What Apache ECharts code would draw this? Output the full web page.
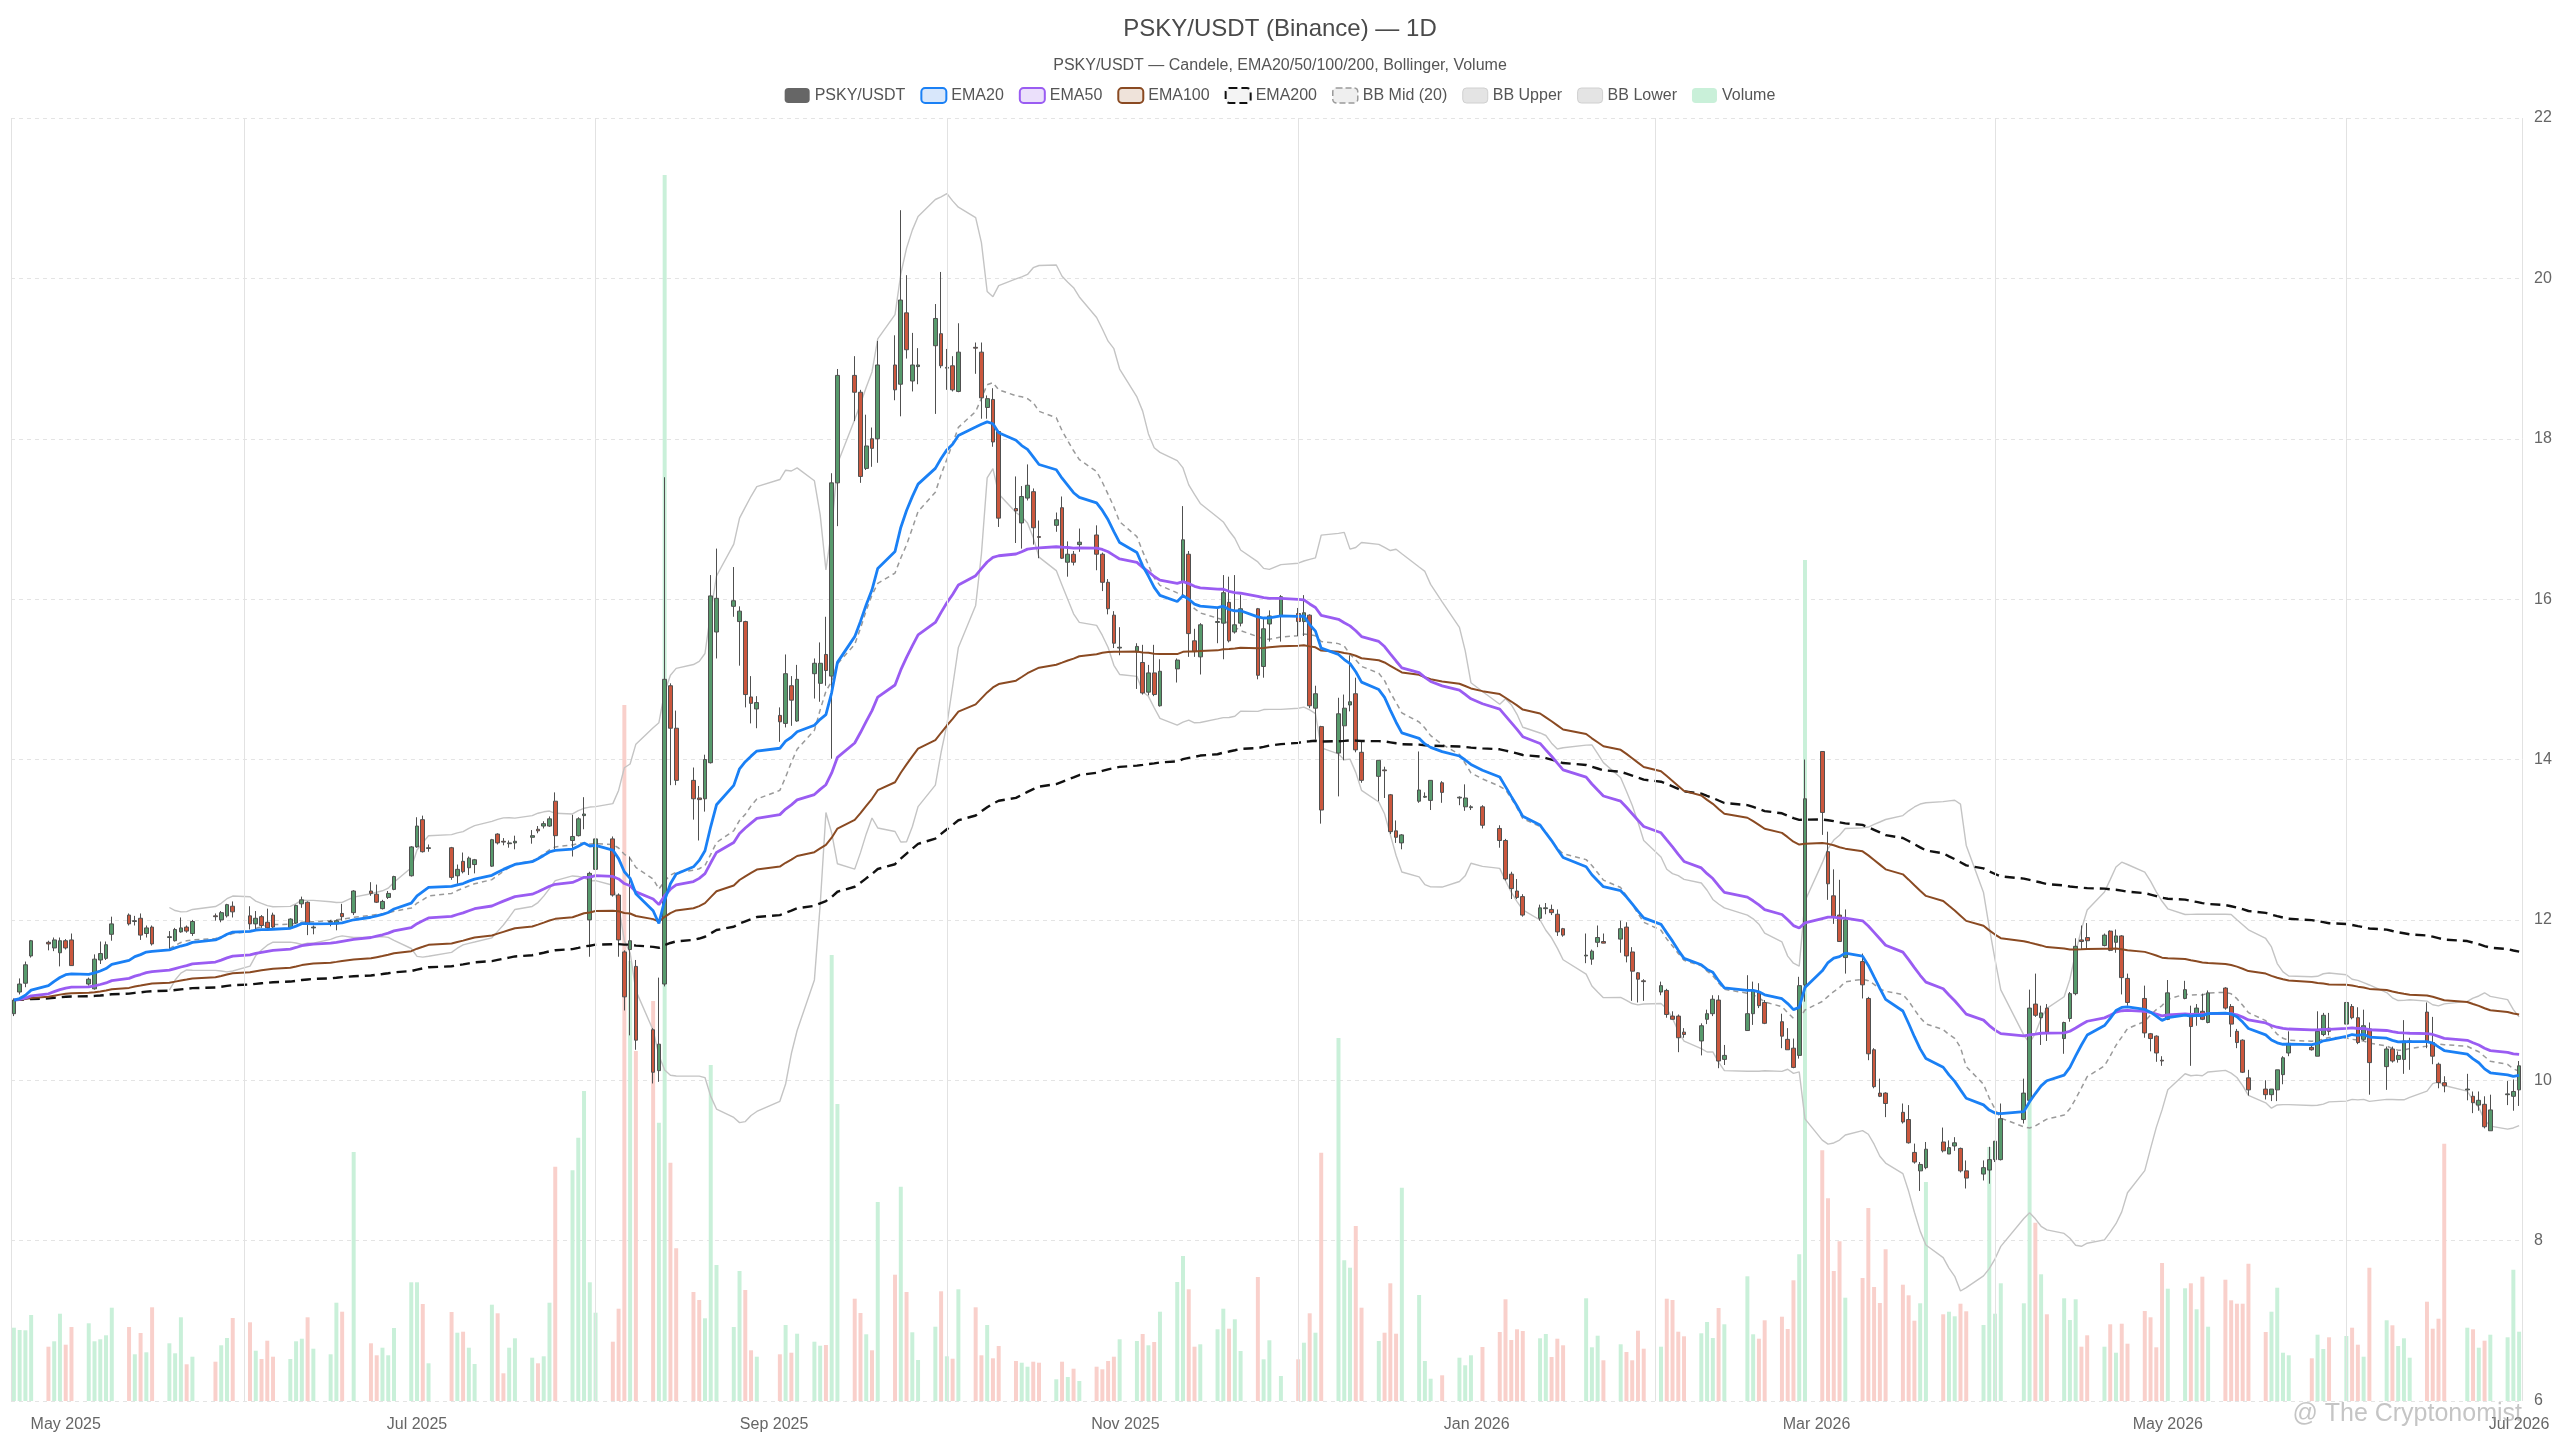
<!DOCTYPE html>
<html>
<head>
<meta charset="utf-8">
<title>PSKY/USDT (Binance) — 1D</title>
<script src="https://cdn.jsdelivr.net/npm/echarts@6/dist/echarts.min.js"></script>
<style>
  html, body { margin: 0; padding: 0; background: #fff; }
  #chart { width: 2560px; height: 1440px; }
</style>
</head>
<body>
<div id="chart"></div>
<script>
// trading calendar: weekdays between first and last day, minus exchange holidays
const firstDay = '2025-04-22';
const lastDay = '2026-07-01';
const holidays = ['2025-05-26', '2025-06-19', '2025-07-04', '2025-09-01', '2025-11-27', '2025-12-25',
    '2026-01-01', '2026-01-19', '2026-02-16', '2026-04-03', '2026-05-25', '2026-06-19'];

// one line per trading week
const opens = [
    10.83, 11.10, 11.21, 11.55,
    11.72, 11.65, 11.59, 11.74, 11.75,
    11.20, 11.14, 11.50, 11.52, 11.82,
    12.06, 11.98, 12.02, 11.83, 11.91,
    11.78, 11.74, 11.85, 11.91, 11.83,
    12.05, 12.00, 12.05, 12.17,
    12.05, 11.95, 12.04, 11.97, 12.06,
    11.90, 11.96, 12.20, 12.22, 11.90,
    11.97, 11.95, 12.08, 12.09,
    12.36, 12.32, 12.14, 12.28, 12.38,
    12.55, 12.91, 13.25, 12.89,
    12.90, 12.55, 12.73, 12.65, 12.69,
    12.67, 13.07, 12.98, 12.95, 12.96,
    13.03, 13.13, 13.17, 13.17, 13.48,
    12.99, 13.05, 13.30, 12.00, 12.63,
    13.01, 12.31, 11.60, 11.63, 11.42,
    10.63, 10.12, 11.20, 14.92, 14.39,
    13.74, 13.52, 13.51, 13.96, 15.59,
    15.91, 15.72, 15.72, 14.78, 14.63,
    14.55, 14.45, 14.92, 14.48,
    15.07, 14.95, 15.31, 15.04, 17.45,
    18.79, 18.58, 17.63, 18.00, 18.00,
    18.92, 18.68, 19.57, 18.72, 18.90,
    19.16, 19.31, 18.88, 18.91, 18.59,
    19.14, 19.08, 18.39, 18.49, 18.09,
    17.13, 16.95, 17.26, 17.34, 16.78,
    16.92, 17.14, 16.46, 16.56, 16.68,
    16.80, 16.56, 16.21, 15.80, 15.39,
    15.34, 15.21, 14.84, 15.08, 14.67,
    15.13, 16.21, 16.56, 15.48, 15.28,
    15.71, 15.70, 15.96, 15.59, 15.70,
    15.88, 15.16, 15.69, 15.79,
    15.82, 15.72, 15.80, 14.64, 14.41,
    14.08, 14.42, 14.68, 14.82, 14.09,
    13.79, 13.87, 13.56, 13.11, 12.96,
    13.48, 13.53, 13.49, 13.71,
    13.52, 13.41, 13.40, 13.41,
    13.14, 12.99, 12.57, 12.36, 12.29,
    12.02, 12.14, 12.13, 12.07, 11.89,
    11.55, 11.51, 11.72, 11.73,
    11.76, 11.91, 11.60, 11.34, 11.24,
    11.10, 11.12, 10.80, 10.80, 10.60,
    10.49, 10.76, 10.83, 11.00, 10.26,
    10.62, 10.83, 11.09, 10.97,
    10.73, 10.51, 10.40, 10.31, 11.19,
    14.10, 12.85, 12.30, 12.06, 11.53,
    11.48, 11.02, 10.38, 9.84, 9.84,
    9.60, 9.51, 9.10, 8.87, 8.91,
    9.23, 9.08, 9.18, 9.15, 8.87,
    8.83, 8.88, 9.01, 9.01,
    9.51, 9.75, 10.95, 10.78, 10.90,
    10.52, 10.77, 11.08, 11.75, 11.78,
    11.68, 11.86, 11.72, 11.80, 11.27,
    11.02, 10.58, 10.55, 10.25, 10.76,
    11.02, 10.83, 10.81, 10.86, 10.72,
    11.15, 10.92, 10.61, 10.50, 10.03,
    9.89, 9.82, 9.88, 10.07, 10.34,
    10.41, 10.30, 10.57, 10.65,
    10.70, 10.92, 10.78, 10.51, 10.64,
    10.17, 10.39, 10.26, 10.26, 10.48,
    10.85, 10.47, 10.20, 9.97,
    9.88, 9.80, 9.69, 9.70, 9.37,
    9.82, 9.80, 9.88
];

const highs = [
    11.02, 11.27, 11.48, 11.75,
    11.74, 11.78, 11.78, 11.76, 11.83,
    11.28, 11.57, 11.73, 11.73, 12.04,
    12.08, 12.05, 12.08, 11.93, 11.93,
    11.86, 11.90, 12.03, 11.93, 12.00,
    12.08, 12.11, 12.20, 12.23,
    12.17, 12.11, 12.06, 12.14, 12.09,
    12.02, 12.19, 12.29, 12.23, 11.93,
    12.00, 12.00, 12.20, 12.37,
    12.47, 12.44, 12.25, 12.36, 12.55,
    12.92, 13.28, 13.30, 12.94,
    12.91, 12.69, 12.84, 12.79, 12.76,
    13.01, 13.08, 13.02, 12.99, 13.05,
    13.12, 13.17, 13.23, 13.29, 13.59,
    13.31, 13.28, 13.53, 12.60, 13.32,
    13.04, 12.33, 11.62, 12.79, 11.50,
    10.65, 11.28, 17.52, 14.95, 14.61,
    13.90, 13.67, 14.06, 16.30, 16.63,
    16.40, 15.91, 15.73, 15.04, 14.79,
    14.65, 15.31, 15.04, 15.18,
    15.26, 15.46, 15.78, 17.57, 18.87,
    19.03, 18.61, 18.30, 18.14, 19.22,
    19.29, 20.85, 20.04, 19.32, 19.13,
    19.68, 20.08, 19.12, 19.03, 19.44,
    19.20, 19.20, 18.54, 18.63, 18.10,
    17.53, 17.41, 17.68, 17.38, 16.98,
    17.08, 17.28, 16.72, 16.60, 16.88,
    16.92, 16.58, 16.25, 15.85, 15.65,
    15.45, 15.43, 15.18, 15.43, 15.25,
    15.26, 17.16, 16.60, 15.63, 15.70,
    15.90, 16.30, 16.28, 16.30, 16.05,
    15.89, 15.76, 15.86, 16.05,
    15.89, 16.05, 15.81, 14.92, 14.42,
    14.77, 14.81, 15.30, 15.02, 14.23,
    13.99, 13.91, 13.57, 13.24, 13.07,
    14.10, 13.59, 13.74, 13.73,
    13.54, 13.69, 13.43, 13.43,
    13.18, 13.01, 12.60, 12.51, 12.32,
    12.19, 12.21, 12.19, 12.13, 11.90,
    11.83, 11.63, 11.93, 11.83,
    11.99, 11.97, 11.66, 11.35, 11.26,
    11.23, 11.14, 10.86, 10.82, 10.65,
    10.71, 10.88, 11.06, 11.06, 10.44,
    11.31, 11.23, 11.21, 11.00,
    10.83, 10.65, 10.52, 11.29, 14.00,
    14.10, 13.10, 12.63, 12.50, 12.13,
    11.58, 11.04, 10.40, 10.02, 9.85,
    9.71, 9.69, 9.21, 8.98, 9.23,
    9.41, 9.25, 9.29, 9.16, 9.00,
    9.00, 9.17, 9.24, 9.71,
    10.02, 11.13, 11.33, 10.93, 10.95,
    10.73, 11.10, 11.77, 11.93, 11.96,
    11.83, 11.87, 11.88, 11.81, 11.33,
    11.18, 10.59, 10.56, 10.30, 11.25,
    11.24, 10.93, 10.95, 11.08, 11.12,
    11.16, 10.95, 10.64, 10.51, 10.13,
    10.00, 9.89, 10.13, 10.30, 10.61,
    10.44, 10.86, 10.84, 10.84,
    11.17, 10.95, 10.91, 10.88, 10.72,
    10.42, 10.42, 10.36, 10.75, 10.53,
    10.97, 10.79, 10.22, 10.05,
    10.08, 9.86, 9.86, 9.80, 9.82,
    9.99, 10.01, 10.24
];

const lows = [
    10.80, 11.07, 11.16, 11.53,
    11.62, 11.61, 11.42, 11.63, 11.43,
    11.18, 11.13, 11.45, 11.50, 11.74,
    11.93, 11.93, 11.75, 11.78, 11.68,
    11.63, 11.73, 11.84, 11.84, 11.80,
    11.99, 11.97, 12.03, 12.03,
    11.88, 11.88, 11.90, 11.88, 11.89,
    11.89, 11.95, 12.15, 11.81, 11.82,
    11.92, 11.87, 11.99, 12.06,
    12.30, 12.21, 12.13, 12.26, 12.37,
    12.54, 12.90, 12.84, 12.85,
    12.50, 12.45, 12.58, 12.56, 12.58,
    12.66, 12.94, 12.93, 12.90, 12.88,
    12.95, 13.08, 13.14, 13.16, 12.88,
    12.79, 13.04, 13.13, 11.54, 12.35,
    12.29, 11.54, 10.87, 10.56, 10.38,
    9.96, 9.98, 11.17, 13.68, 13.68,
    13.25, 12.99, 13.35, 13.95, 15.26,
    15.78, 15.17, 14.65, 14.45, 14.39,
    14.22, 14.40, 14.42, 14.47,
    14.76, 14.72, 14.92, 14.01, 16.91,
    18.22, 17.45, 17.61, 17.65, 17.70,
    18.48, 18.28, 19.00, 18.59, 18.68,
    18.31, 18.88, 18.61, 18.59, 18.58,
    18.81, 18.25, 18.25, 17.90, 16.90,
    16.70, 16.63, 17.23, 16.68, 16.51,
    16.84, 16.50, 16.28, 16.42, 16.59,
    16.36, 16.10, 15.81, 15.39, 15.30,
    14.88, 14.81, 14.80, 14.79, 14.66,
    14.96, 16.05, 15.28, 15.28, 15.06,
    15.45, 15.25, 15.46, 15.57, 15.66,
    15.00, 15.02, 15.47, 15.47,
    15.54, 15.54, 14.64, 14.25, 13.20,
    13.54, 13.99, 14.60, 14.09, 13.71,
    13.48, 13.52, 13.07, 12.96, 12.88,
    13.46, 13.52, 13.37, 13.46,
    13.43, 13.36, 13.37, 13.14,
    12.90, 12.49, 12.26, 12.26, 12.04,
    11.99, 12.07, 12.06, 11.80, 11.79,
    11.46, 11.44, 11.66, 11.71,
    11.59, 11.47, 10.99, 10.97, 10.99,
    11.06, 10.78, 10.76, 10.35, 10.53,
    10.31, 10.70, 10.80, 10.15, 10.19,
    10.62, 10.69, 10.90, 10.70,
    10.40, 10.38, 10.15, 10.27, 10.98,
    13.06, 12.25, 11.95, 11.73, 11.33,
    11.02, 10.25, 9.90, 9.79, 9.54,
    9.46, 9.21, 8.96, 8.62, 8.89,
    9.10, 9.08, 9.12, 8.85, 8.65,
    8.75, 8.71, 8.98, 9.00,
    9.46, 9.74, 10.79, 10.44, 10.49,
    10.33, 10.73, 11.06, 11.63, 11.63,
    11.67, 11.61, 11.59, 11.07, 10.93,
    10.53, 10.36, 10.23, 10.18, 10.75,
    11.01, 10.18, 10.68, 10.75, 10.71,
    10.88, 10.54, 10.40, 10.09, 9.81,
    9.76, 9.74, 9.74, 9.95, 10.30,
    10.37, 10.30, 10.55, 10.56,
    10.47, 10.76, 10.45, 10.49, 9.82,
    9.88, 10.22, 10.22, 10.08, 10.13,
    10.40, 10.20, 9.90, 9.85,
    9.75, 9.59, 9.62, 9.40, 9.37,
    9.69, 9.62, 9.68
];

const closes = [
    11.00, 11.20, 11.44, 11.74,
    11.70, 11.75, 11.74, 11.65, 11.43,
    11.26, 11.51, 11.58, 11.69, 11.95,
    11.95, 11.99, 11.81, 11.90, 11.70,
    11.79, 11.88, 11.90, 11.86, 11.98,
    12.04, 12.09, 12.19, 12.10,
    11.95, 12.02, 11.93, 11.90, 11.91,
    12.01, 12.18, 12.25, 11.95, 11.91,
    11.98, 11.99, 12.04, 12.36,
    12.33, 12.22, 12.23, 12.33, 12.54,
    12.91, 13.17, 12.85, 12.90,
    12.53, 12.63, 12.60, 12.77, 12.75,
    13.00, 12.96, 12.97, 12.96, 12.98,
    13.05, 13.11, 13.20, 13.26, 13.05,
    13.04, 13.26, 13.32, 12.58, 13.01,
    12.31, 11.75, 11.04, 11.74, 10.50,
    10.10, 10.45, 15.00, 14.39, 13.74,
    13.51, 13.50, 14.00, 16.04, 16.01,
    15.98, 15.85, 14.81, 14.70, 14.71,
    14.47, 15.07, 14.74, 15.00,
    15.20, 15.20, 15.11, 17.45, 18.79,
    18.58, 17.53, 17.91, 17.88, 18.92,
    18.61, 19.73, 19.11, 18.92, 18.92,
    19.50, 18.91, 18.89, 18.61, 19.08,
    19.13, 18.51, 18.50, 17.96, 17.01,
    17.10, 17.28, 17.42, 16.89, 16.77,
    16.99, 16.51, 16.56, 16.46, 16.71,
    16.56, 16.21, 15.88, 15.45, 15.40,
    15.41, 14.83, 15.08, 14.81, 15.10,
    15.24, 16.74, 15.57, 15.35, 15.68,
    15.72, 16.08, 15.48, 15.68, 15.88,
    15.05, 15.63, 15.79, 16.03,
    15.72, 15.83, 14.67, 14.82, 13.37,
    14.57, 14.64, 14.72, 14.12, 13.74,
    13.99, 13.86, 13.10, 13.03, 13.06,
    13.62, 13.54, 13.74, 13.59,
    13.53, 13.52, 13.41, 13.18,
    12.99, 12.51, 12.39, 12.28, 12.06,
    12.15, 12.15, 12.09, 11.85, 11.81,
    11.56, 11.61, 11.78, 11.71,
    11.89, 11.55, 11.36, 11.26, 11.23,
    11.18, 10.82, 10.76, 10.53, 10.57,
    10.68, 10.83, 11.01, 10.24, 10.31,
    10.83, 11.12, 10.93, 10.71,
    10.55, 10.38, 10.16, 11.18, 13.51,
    13.34, 12.45, 12.04, 11.73, 12.00,
    11.19, 10.33, 9.92, 9.80, 9.71,
    9.48, 9.22, 8.98, 8.95, 9.14,
    9.12, 9.16, 9.22, 8.87, 8.78,
    8.91, 9.01, 9.24, 9.52,
    9.84, 10.90, 10.81, 10.84, 10.60,
    10.72, 11.08, 11.67, 11.73, 11.74,
    11.81, 11.62, 11.80, 11.28, 10.97,
    10.59, 10.52, 10.34, 10.24, 11.09,
    11.13, 10.67, 10.90, 10.76, 11.09,
    10.90, 10.70, 10.47, 10.10, 9.88,
    9.82, 9.89, 10.13, 10.28, 10.46,
    10.38, 10.61, 10.81, 10.61,
    10.97, 10.78, 10.47, 10.68, 10.22,
    10.39, 10.24, 10.31, 10.49, 10.49,
    10.48, 10.30, 9.97, 9.93,
    9.89, 9.72, 9.75, 9.42, 9.63,
    9.83, 9.86, 10.18
];

const volumes = [
    7.33, 7.10, 7.07, 8.60,
    5.43, 5.97, 8.73, 5.63, 7.40,
    7.77, 5.97, 6.17, 6.57, 9.33,
    7.40, 4.67, 6.80, 4.87, 9.37,
    5.77, 4.77, 8.37, 3.67, 4.43,
    3.93, 5.57, 6.30, 8.30,
    7.87, 5.03, 4.20, 6.03, 4.43,
    4.20, 5.97, 6.23, 8.37, 5.23,
    4.67, 9.83, 8.93, 24.90,
    5.77, 4.57, 5.33, 4.57, 7.30,
    11.87, 11.87, 9.70, 3.77,
    8.90, 6.83, 6.93, 5.33, 3.70,
    9.63, 8.77, 2.77, 5.33, 6.27,
    4.33, 3.77, 4.47, 9.83, 23.43,
    23.07, 26.33, 31.0, 11.87, 8.83,
    5.93, 9.23, 69.6, 44.0, 35.0,
    40.0, 27.83, 122.6, 23.83, 15.27,
    10.9, 10.1, 8.27, 33.6, 13.6,
    7.4, 13.0, 11.1, 5.07, 4.43,
    4.67, 7.6, 4.83, 6.73,
    5.93, 5.53, 5.6, 44.6, 29.7,
    10.23, 8.8, 6.67, 5.07, 19.9,
    12.63, 21.43, 10.9, 6.87, 4.1,
    7.43, 10.97, 4.47, 4.23, 11.17,
    9.37, 4.57, 7.6, 4.27, 5.5,
    4.0, 3.83, 3.43, 3.93, 3.83,
    2.17, 3.93, 2.4, 3.23, 2.0,
    3.43, 3.17, 4.0, 4.43, 6.17,
    6.0, 6.7, 5.57, 5.9, 8.93,
    11.9, 14.5, 11.17, 5.43, 5.67,
    7.17, 9.23, 7.23, 8.17, 5.0,
    12.4, 4.17, 6.07, 2.5,
    4.17, 5.83, 8.77, 6.83, 24.83,
    36.3, 14.07, 13.33, 17.5, 9.33,
    6.0, 6.83, 11.77, 6.73, 21.33,
    10.6, 4.0, 2.23, 2.57,
    4.33, 3.57, 4.57, 5.4,
    6.9, 10.17, 6.1, 7.17, 7.0,
    6.27, 6.7, 4.4, 6.23, 5.57,
    10.27, 5.37, 6.53, 4.07,
    5.67, 4.9, 4.07, 7.03, 5.23,
    5.43, 10.23, 10.1, 6.93, 6.47,
    6.77, 7.9, 6.3, 9.3, 7.67,
    12.47, 6.67, 6.23, 8.07,
    8.43, 7.2, 12.07, 14.67, 84.1,
    25.07, 20.27, 13.0, 15.97, 10.33,
    12.3, 19.3, 11.4, 9.8, 15.17,
    11.63, 10.57, 8.03, 9.77, 21.9,
    8.67, 8.93, 8.47, 9.73, 8.97,
    7.6, 25.4, 8.73, 11.77,
    9.77, 32.3, 17.83, 12.67, 8.67,
    10.27, 8.1, 10.17, 5.43, 6.57,
    5.43, 7.67, 4.83, 7.73, 5.73,
    9.0, 8.37, 5.37, 13.8, 11.23,
    11.27, 11.77, 9.17, 12.43, 7.43,
    12.13, 10.07, 9.73, 9.73, 13.73,
    6.9, 8.93, 11.33, 4.83, 4.57,
    4.27, 6.63, 5.2, 6.37,
    6.5, 7.33, 5.63, 4.43, 13.33,
    8.07, 7.57, 5.5, 6.27, 4.33,
    9.93, 7.23, 8.23, 25.73,
    7.33, 7.17, 5.33, 6.03, 6.63,
    6.37, 13.13, 6.93
];

// x axis: labels on odd months, vertical grid lines on even months
const labelDays = ['2025-05-01', '2025-07-01', '2025-09-01', '2025-11-01', '2026-01-01', '2026-03-01', '2026-05-01', '2026-07-01'];
const gridDays = ['2025-06-01', '2025-08-01', '2025-10-01', '2025-12-01', '2026-02-01', '2026-04-01', '2026-06-01'];
const yTicks = [6, 8, 10, 12, 14, 16, 18, 20, 22];
const monthNames = ['Jan', 'Feb', 'Mar', 'Apr', 'May', 'Jun', 'Jul', 'Aug', 'Sep', 'Oct', 'Nov', 'Dec'];

const ts = (s) => {
    const [y, m, d] = s.split('-').map(Number);
    return new Date(y, m - 1, d).getTime();
};

function tradingDays(a, b, skip) {
    const out = [];
    const d = new Date(a + 'T00:00:00Z');
    const end = new Date(b + 'T00:00:00Z');
    while (d <= end) {
        const wd = d.getUTCDay();
        const s = d.toISOString().slice(0, 10);
        if (wd !== 0 && wd !== 6 && skip.indexOf(s) < 0) out.push(s);
        d.setUTCDate(d.getUTCDate() + 1);
    }
    return out;
}

function ema(values, n) {
    const k = 2 / (n + 1);
    const out = [];
    let prev = values[0];
    values.forEach((v, i) => {
        prev = i === 0 ? v : v * k + prev * (1 - k);
        out.push(prev);
    });
    return out;
}

function bollinger(values, n, mult) {
    const mid = [], up = [], low = [];
    for (let i = 0; i < values.length; i++) {
        if (i < n - 1) { mid.push(null); up.push(null); low.push(null); continue; }
        const win = values.slice(i - n + 1, i + 1);
        const m = win.reduce((a, b) => a + b, 0) / n;
        const sd = Math.sqrt(win.reduce((a, b) => a + (b - m) * (b - m), 0) / n);
        mid.push(m); up.push(m + mult * sd); low.push(m - mult * sd);
    }
    return { mid, up, low };
}

const days = tradingDays(firstDay, lastDay, holidays);
if (days.length !== closes.length) console.warn('date count', days.length, 'vs', closes.length);
const times = days.map(ts);
const HALF_DAY = 12 * 3600 * 1000;
const xMin = times[0] - HALF_DAY;
const xMax = times[times.length - 1] + HALF_DAY;

const ema20 = ema(closes, 20);
const ema50 = ema(closes, 50);
const ema100 = ema(closes, 100);
const ema200 = ema(closes, 200);
const bb = bollinger(closes, 20, 2);

const toLine = (arr) => times.map((t, i) => [t, arr[i]]).filter(p => p[1] != null);

const UP = '#579a6c', DOWN = '#cb573d', EDGE = '#505050';
const VOL_UP = '#c9f0d9', VOL_DOWN = '#f9d0cb';

const myChart = echarts.init(document.getElementById('chart'), null, { renderer: 'canvas' });

const option = {
    animation: false,
    backgroundColor: '#ffffff',
    textStyle: { fontFamily: 'sans-serif' },
    title: [
        {
            text: 'PSKY/USDT (Binance) — 1D',
            left: 'center',
            top: 12,
            textStyle: { fontSize: 24, fontWeight: 'normal', color: '#4a4a4a' },
        },
        {
            text: 'PSKY/USDT — Candele, EMA20/50/100/200, Bollinger, Volume',
            left: 'center',
            top: 53,
            textStyle: { fontSize: 16, fontWeight: 'normal', color: '#555' },
        },
    ],
    legend: {
        top: 82,
        left: 'center',
        itemWidth: 25,
        itemHeight: 15,
        itemGap: 15,
        textStyle: { fontSize: 16, color: '#555' },
        data: [
            { name: 'PSKY/USDT', icon: 'roundRect', itemStyle: { color: '#666666', borderWidth: 0 } },
            { name: 'EMA20', icon: 'roundRect', itemStyle: { color: '#d8e7fb', borderColor: '#1a80f5', borderWidth: 2 } },
            { name: 'EMA50', icon: 'roundRect', itemStyle: { color: '#ebe0fb', borderColor: '#9a5cf2', borderWidth: 2 } },
            { name: 'EMA100', icon: 'roundRect', itemStyle: { color: '#efe3da', borderColor: '#8a4a22', borderWidth: 2 } },
            { name: 'EMA200', icon: 'roundRect', itemStyle: { color: '#f4f4f4', borderColor: '#111111', borderWidth: 2, borderType: 'dashed' } },
            { name: 'BB Mid (20)', icon: 'roundRect', itemStyle: { color: '#efefef', borderColor: '#9a9a9a', borderWidth: 1.5, borderType: 'dashed' } },
            { name: 'BB Upper', icon: 'roundRect', itemStyle: { color: '#e4e4e4', borderColor: '#d0d0d0', borderWidth: 1 } },
            { name: 'BB Lower', icon: 'roundRect', itemStyle: { color: '#e4e4e4', borderColor: '#d0d0d0', borderWidth: 1 } },
            { name: 'Volume', icon: 'roundRect', itemStyle: { color: VOL_UP, borderWidth: 0 } },
        ],
    },
    grid: {
        left: 11,
        right: 38,
        top: 118,
        bottom: 39,
        outerBoundsMode: 'none',
    },
    xAxis: {
        type: 'value',
        min: xMin,
        max: xMax,
        axisLine: { show: false },
        axisTick: { show: false },
        splitLine: { show: false },
        axisLabel: {
            customValues: labelDays.map(ts),
            formatter: (v) => {
                const d = new Date(v);
                return monthNames[d.getMonth()] + ' ' + d.getFullYear();
            },
            color: '#666',
            fontSize: 16,
            margin: 16,
        },
    },
    yAxis: [
        {
            type: 'value',
            position: 'right',
            min: yTicks[0],
            max: yTicks[yTicks.length - 1],
            interval: 2,
            axisLine: { show: false },
            axisTick: { show: false },
            axisLabel: { color: '#666', fontSize: 16, margin: 12 },
            splitLine: { lineStyle: { color: '#e4e4e4', type: [4, 4], width: 1 } },
        },
        {
            type: 'value',
            min: 0,
            max: 128.3,
            show: false,
            splitLine: { show: false },
        },
    ],
    series: [
        {
            name: 'Volume',
            type: 'bar',
            yAxisIndex: 1,
            z: 1,
            itemStyle: { color: VOL_UP },
            data: times.map((t, i) => ({
                value: [t, volumes[i]],
                itemStyle: { color: closes[i] >= opens[i] ? VOL_UP : VOL_DOWN },
            })),
            markLine: {
                silent: true,
                symbol: ['none', 'none'],
                label: { show: false },
                lineStyle: { color: '#e2e2e2', type: 'solid', width: 1 },
                data: [xMin, xMax].concat(gridDays.map(ts)).map(t => ({ xAxis: t })),
            },
        },
        {
            name: 'BB Upper',
            type: 'line',
            z: 2,
            showSymbol: false,
            data: toLine(bb.up),
            itemStyle: { color: '#c8c8c8' },
            lineStyle: { color: '#c4c4c4', width: 1.4 },
        },
        {
            name: 'BB Lower',
            type: 'line',
            z: 2,
            showSymbol: false,
            data: toLine(bb.low),
            itemStyle: { color: '#c8c8c8' },
            lineStyle: { color: '#c4c4c4', width: 1.4 },
        },
        {
            name: 'BB Mid (20)',
            type: 'line',
            z: 2,
            showSymbol: false,
            data: toLine(bb.mid),
            itemStyle: { color: '#999' },
            lineStyle: { color: '#9a9a9a', width: 1.5, type: [5, 4] },
        },
        {
            name: 'PSKY/USDT',
            type: 'candlestick',
            z: 3,
            data: times.map((t, i) => [t, opens[i], closes[i], lows[i], highs[i]]),
            itemStyle: {
                color: UP,
                color0: DOWN,
                borderColor: EDGE,
                borderColor0: EDGE,
                borderWidth: 1,
            },
        },
        {
            name: 'EMA200',
            type: 'line',
            z: 4,
            showSymbol: false,
            data: toLine(ema200),
            itemStyle: { color: '#111' },
            lineStyle: { color: '#111', width: 2.4, type: [10, 6] },
        },
        {
            name: 'EMA100',
            type: 'line',
            z: 4,
            showSymbol: false,
            data: toLine(ema100),
            itemStyle: { color: '#8a4a22' },
            lineStyle: { color: '#8a4a22', width: 2 },
        },
        {
            name: 'EMA50',
            type: 'line',
            z: 4,
            showSymbol: false,
            data: toLine(ema50),
            itemStyle: { color: '#9a5cf2' },
            lineStyle: { color: '#9a5cf2', width: 2.8 },
        },
        {
            name: 'EMA20',
            type: 'line',
            z: 4,
            showSymbol: false,
            data: toLine(ema20),
            itemStyle: { color: '#1a80f5' },
            lineStyle: { color: '#1a80f5', width: 2.8 },
        },
    ],
    graphic: [
        {
            type: 'text',
            right: 38,
            top: 1402,
            z: 100,
            style: {
                text: '@ The Cryptonomist',
                fill: 'rgba(150,150,150,0.55)',
                font: '25px sans-serif',
            },
        },
    ],
};

myChart.setOption(option);
window.addEventListener('resize', () => myChart.resize());
</script>
</body>
</html>
